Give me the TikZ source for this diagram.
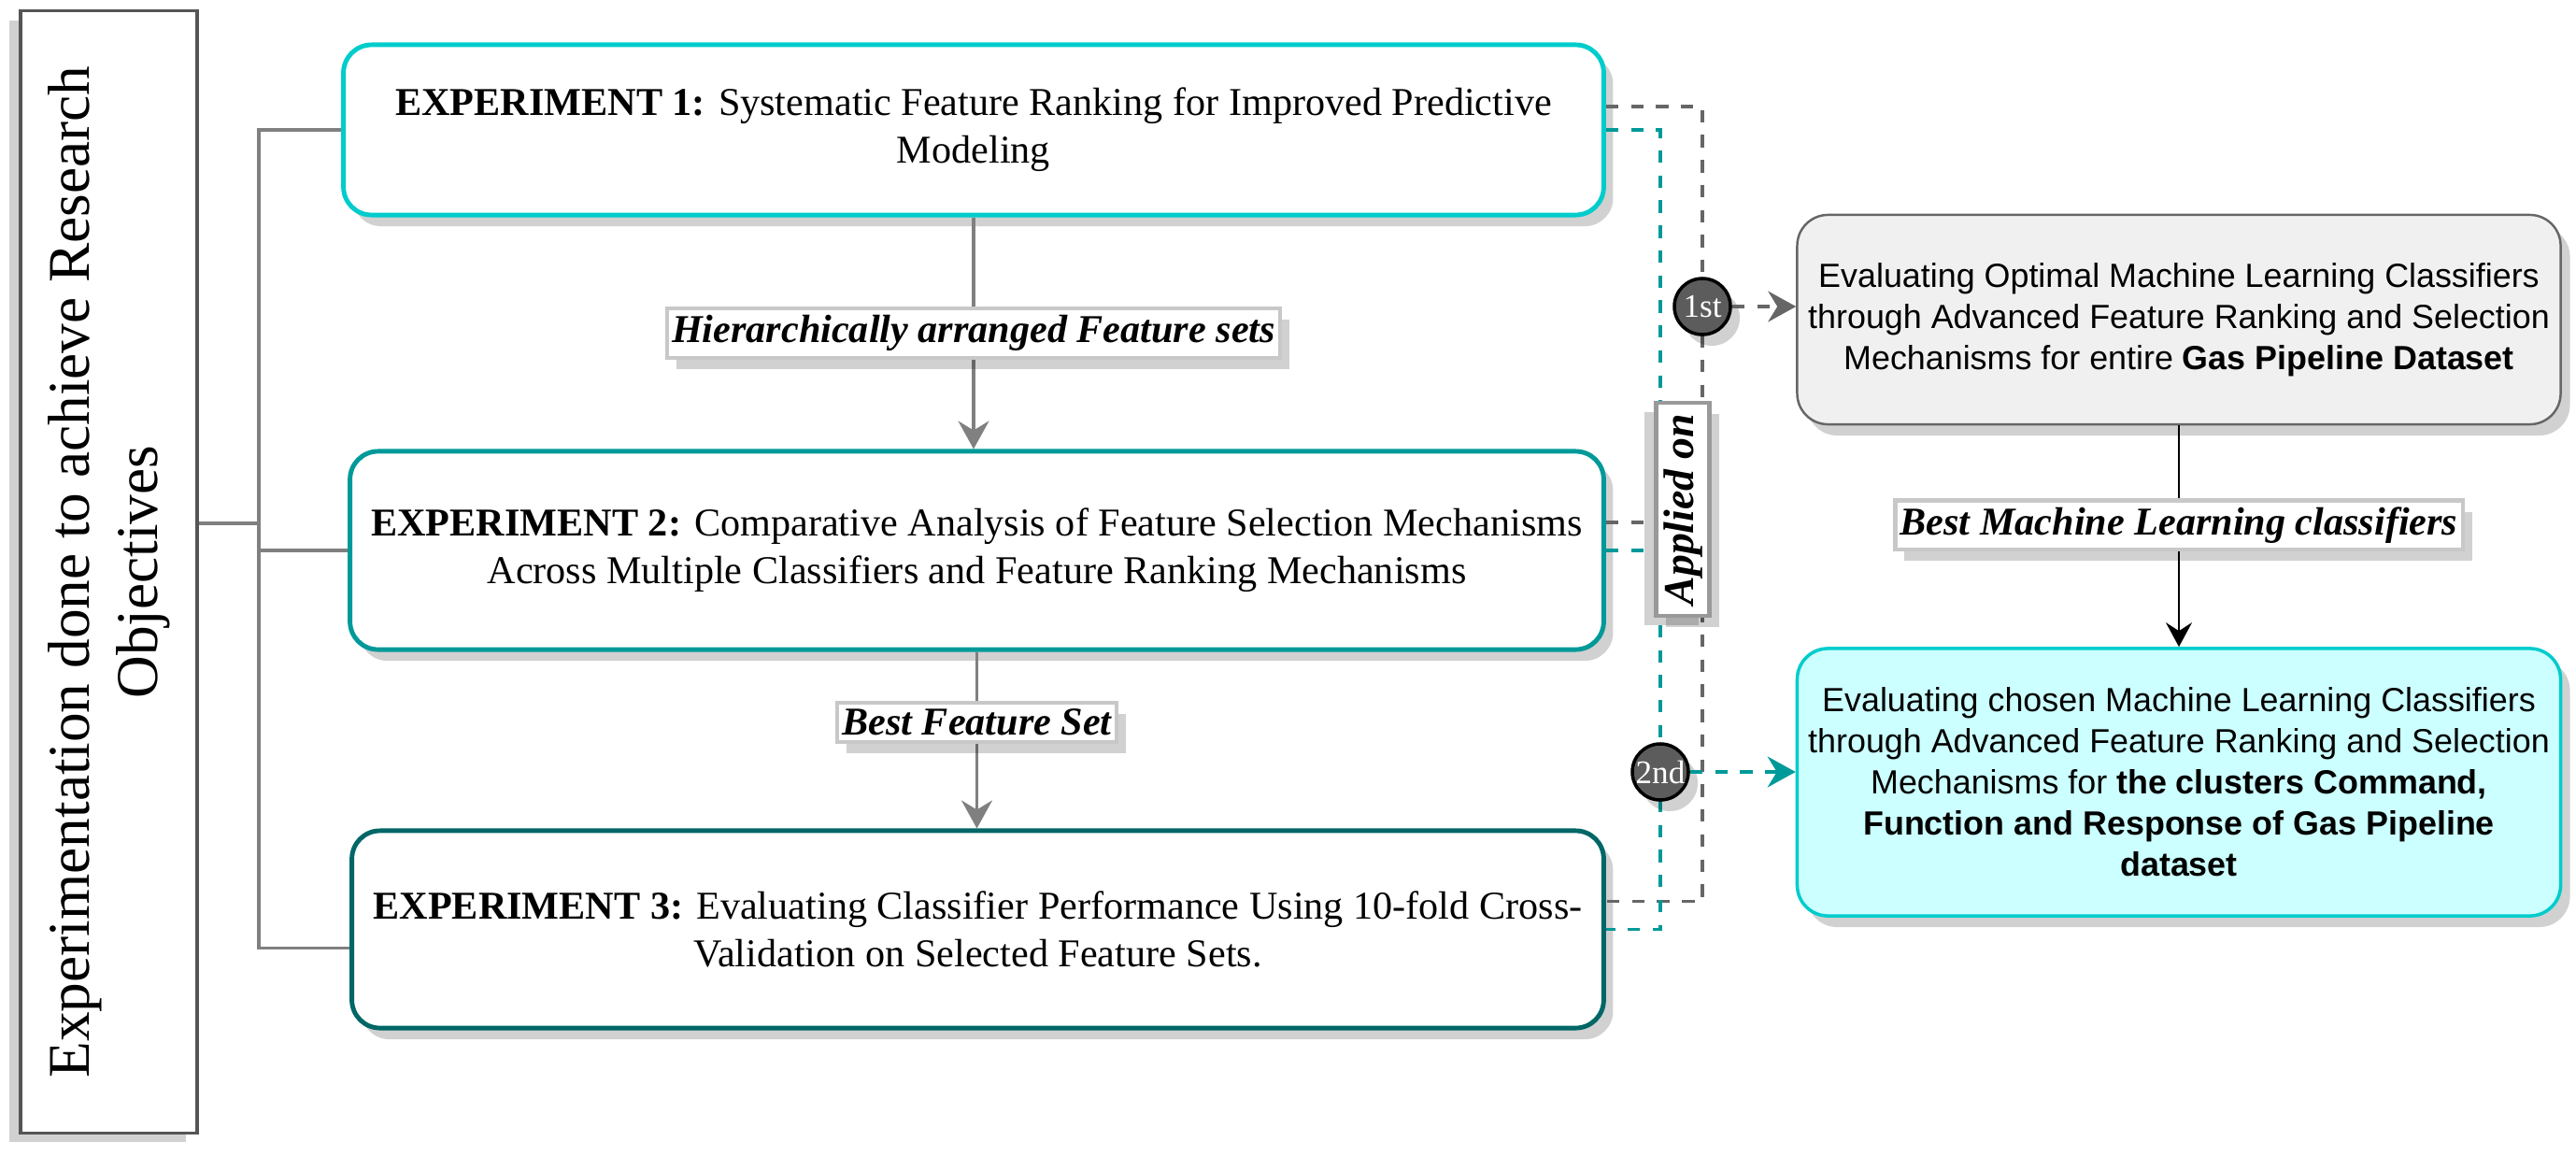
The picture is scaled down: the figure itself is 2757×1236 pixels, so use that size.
\documentclass[tikz,border=0pt]{standalone}
\usepackage{fontspec}
\setmainfont{Liberation Serif}
\newfontfamily\arialfont{Liberation Sans}
\usetikzlibrary{arrows.meta,shadows}
\definecolor{expone}{RGB}{0,204,204}
\definecolor{exptwo}{RGB}{0,153,153}
\definecolor{expthree}{RGB}{0,102,102}
\definecolor{linegray}{RGB}{128,128,128}
\definecolor{dashgray}{RGB}{102,102,102}
\definecolor{framegray}{RGB}{85,85,85}
\definecolor{softgray}{RGB}{240,240,240}
\definecolor{softcyan}{RGB}{204,255,255}
\definecolor{badgegray}{RGB}{92,92,92}
\definecolor{tagborder}{RGB}{200,200,200}

\begin{document}
\begin{tikzpicture}[
  x=0.01cm, y=-0.01cm,
  shadowed/.style={drop shadow={shadow xshift=1mm, shadow yshift=-1.2mm, opacity=0.18, fill=black}},
  expbox/.style={draw, line width=1.4pt, rounded corners=3mm, fill=white, align=center, shadowed,
    font=\fontsize{12}{14.5}\selectfont},
  resbox/.style={draw, rounded corners=3.3mm, align=center, minimum width=81mm, shadowed,
    font=\arialfont\fontsize{10.2}{12.5}\selectfont},
  tag/.style={draw=tagborder, line width=1.2pt, fill=white, text=black, inner xsep=1.5pt, inner ysep=2pt, shadowed,
    font=\bfseries\itshape\fontsize{12}{14}\selectfont},
  badge/.style={circle, draw=black, line width=1pt, fill=badgegray, text=white, inner sep=0pt,
    minimum size=6mm, font=\fontsize{10}{12}\selectfont, shadowed},
  bracket/.style={linegray, line width=0.9pt},
  flow/.style={-{Stealth[length=3mm, width=3.3mm, inset=1mm]}, linegray, line width=0.9pt},
  graydash/.style={dashgray, line width=0.9pt, dash pattern=on 3.8pt off 3.8pt},
  tealdash/.style={exptwo, line width=0.9pt, dash pattern=on 3.8pt off 3.8pt},
  darrow/.style={-{Stealth[length=3mm, width=3.3mm, inset=1mm]}}
]
  \useasboundingbox (0,0) rectangle (2757,1236);

  \node[draw=framegray, line width=1pt, fill=white, rotate=90, minimum width=120mm, minimum height=18.9mm,
    align=center, font=\fontsize{18}{20.8}\selectfont,
    drop shadow={shadow xshift=-1.2mm, shadow yshift=-1mm, opacity=0.18, fill=black}]
    (goal) at (116.5,612) {Experimentation done to achieve Research\\Objectives};

  \node[expbox, draw=expone, minimum width=134.8mm, minimum height=18.2mm] (exp1) at (1042,139)
    {\textbf{EXPERIMENT 1:} Systematic Feature Ranking for Improved Predictive\\Modeling};
  \node[expbox, draw=exptwo, minimum width=134.1mm, minimum height=21.2mm] (exp2) at (1045.5,589)
    {\textbf{EXPERIMENT 2:} Comparative Analysis of Feature Selection Mechanisms\\Across Multiple Classifiers and Feature Ranking Mechanisms};
  \node[expbox, draw=expthree, minimum width=133.9mm, minimum height=21.1mm] (exp3) at (1046.5,994.5)
    {\textbf{EXPERIMENT 3:} Evaluating Classifier Performance Using 10-fold Cross-\\Validation on Selected Feature Sets.};

  \node[resbox, draw=dashgray, line width=0.7pt, fill=softgray, minimum height=22.4mm] (whole) at (2332,342)
    {Evaluating Optimal Machine Learning Classifiers\\through Advanced Feature Ranking and Selection\\Mechanisms for entire \textbf{Gas Pipeline Dataset}};
  \node[resbox, draw=expone, line width=1pt, fill=softcyan, minimum height=28.6mm] (clusters) at (2332,837)
    {Evaluating chosen Machine Learning Classifiers\\through Advanced Feature Ranking and Selection\\Mechanisms for \textbf{the clusters Command,}\\\textbf{Function and Response of Gas Pipeline}\\\textbf{dataset}};

  \coordinate (hub) at (277,560);
  \draw[bracket] (hub -| goal.south) -- (hub);
  \draw[bracket] (exp1.west) -| (hub) |- ([yshift=-2mm]exp3.west);
  \draw[bracket] (hub |- exp2.west) -- (exp2.west);

  \draw[flow] (exp1.south) -- node[tag] {Hierarchically arranged Feature sets} (exp1.south |- exp2.north);
  \draw[flow] (exp2.south) -- node[tag, pos=0.4] {Best Feature Set} (exp2.south |- exp3.north);
  \draw[-{Stealth[length=2.6mm, width=2.8mm, inset=0.9mm]}, black, line width=0.6pt]
    (whole.south) -- node[tag, pos=0.45] {Best Machine Learning classifiers} (clusters.north);

  \coordinate (stpos) at (1822,328);
  \coordinate (ndpos) at (1777,826);
  \draw[graydash] ([yshift=2.5mm]exp1.east) -| (stpos) |- ([yshift=3mm]exp3.east);
  \draw[graydash] ([yshift=3mm]exp2.east) -- ([yshift=3mm]exp2.east -| stpos);
  \draw[tealdash] (exp1.east) -| (ndpos) |- (exp3.east);
  \draw[tealdash] (exp2.east) -- (exp2.east -| ndpos);

  \node[tag, draw=black!40, rotate=90, minimum width=22.8mm, minimum height=5.7mm, inner sep=0pt,
    font=\bfseries\itshape\fontsize{13}{15}\selectfont,
    drop shadow={shadow xshift=-1.2mm, shadow yshift=-1mm, opacity=0.18, fill=black}]
    (applied) at (1801,545) {Applied on};

  \node[badge] (st) at (stpos) {1st};
  \node[badge] (nd) at (ndpos) {2nd};
  \draw[graydash, darrow] (st.east) -- (st.east -| whole.west);
  \draw[tealdash, darrow] (nd.east) -- (nd.east -| clusters.west);
\end{tikzpicture}
\end{document}
